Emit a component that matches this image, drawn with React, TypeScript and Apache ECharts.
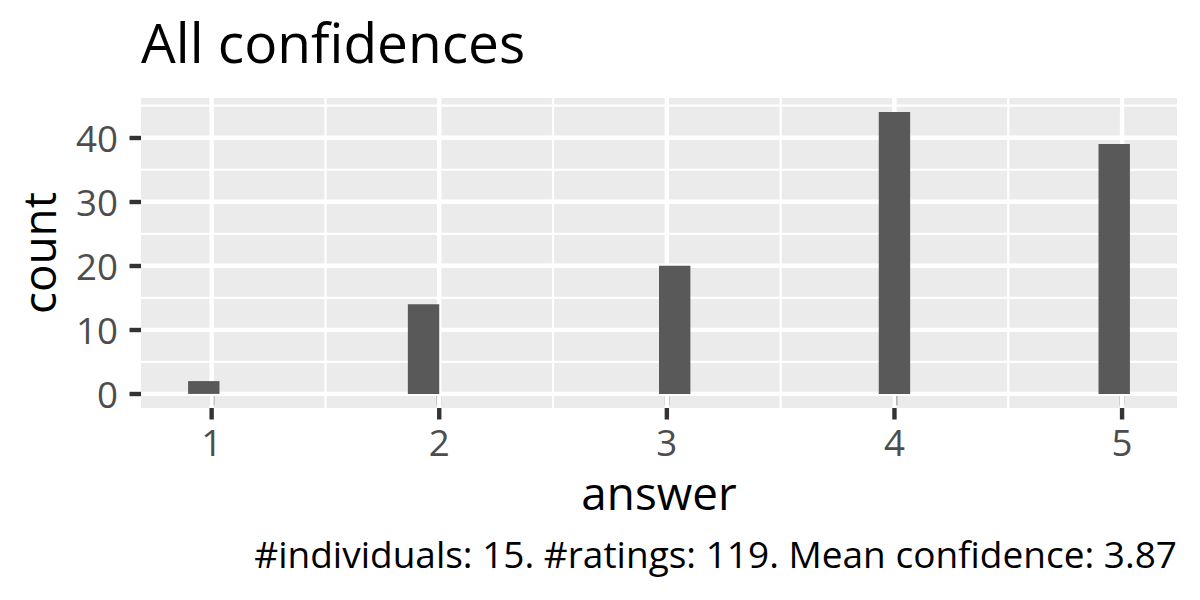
import React, { useEffect, useRef } from "react";
import * as echarts from "echarts";

// ---- data ----
const answers = [1, 2, 3, 4, 5];
const counts = [2, 14, 20, 44, 39];
const xTicks = [1, 2, 3, 4, 5];
const xMinor = [1.5, 2.5, 3.5, 4.5];
const yTicks = [0, 10, 20, 30, 40];
const yMinor = [5, 15, 25, 35, 45];
const titleText = "All confidences";
const xTitle = "answer";
const yTitle = "count";
const captionText = "#individuals: 15. #ratings: 119. Mean confidence: 3.87";
const BINS = 30;

const FONT = '"Open Sans", "Noto Sans", sans-serif';

export default function App() {
  const ref = useRef<HTMLDivElement>(null);

  useEffect(() => {
    const chart = echarts.init(ref.current!, null, { renderer: "svg" });

    // ggplot-style histogram bins (right-closed, boundary = width/2)
    const lo = Math.min(...answers);
    const hi = Math.max(...answers);
    const bw = (hi - lo) / (BINS - 1);
    const boundary = bw / 2;
    const bars = answers.map((a, i) => {
      const k = Math.ceil((a - boundary) / bw - 1e-7) - 1;
      const s = boundary + k * bw;
      return [s, s + bw, counts[i]];
    });
    const bMin = bars[0][0];
    const bMax = bars[bars.length - 1][1];
    const xPad = (bMax - bMin) * 0.05;
    const xLo = bMin - xPad;
    const xHi = bMax + xPad;
    const cMax = Math.max(...counts);
    const yLo = -cMax * 0.05;
    const yHi = cMax * 1.05;

    const gridSeries = (values: number[], dir: "x" | "y", width: number, z: number) => ({
      type: "custom",
      silent: true,
      z,
      clip: false,
      encode: { x: 0, y: 1 },
      data: values.map((v) => (dir === "x" ? [v, 0] : [xLo, v])),
      renderItem: (params: any, api: any) => {
        const cs = params.coordSys;
        if (dir === "x") {
          const p = api.coord([api.value(0), 0]);
          return {
            type: "line",
            shape: { x1: p[0], y1: cs.y, x2: p[0], y2: cs.y + cs.height },
            style: { stroke: "#FFFFFF", lineWidth: width },
          };
        }
        const p = api.coord([xLo, api.value(1)]);
        return {
          type: "line",
          shape: { x1: cs.x, y1: p[1], x2: cs.x + cs.width, y2: p[1] },
          style: { stroke: "#FFFFFF", lineWidth: width },
        };
      },
    });

    // x-axis tick marks drawn below the panel
    const xTickSeries = {
      type: "custom",
      silent: true,
      z: 4,
      clip: false,
      encode: { x: 0, y: 1 },
      data: xTicks.map((v) => [v, 0]),
      renderItem: (params: any, api: any) => {
        const cs = params.coordSys;
        const p = api.coord([api.value(0), 0]);
        const y0 = cs.y + cs.height;
        return {
          type: "line",
          shape: { x1: p[0], y1: y0, x2: p[0], y2: y0 + 11.5 },
          style: { stroke: "#333333", lineWidth: 4.4 },
        };
      },
    };

    chart.setOption({
      animation: false,
      textStyle: { fontFamily: FONT },
      title: {
        text: titleText,
        left: 141,
        top: 14,
        padding: 0,
        textStyle: { fontSize: 55, fontWeight: "normal", color: "#000000", fontFamily: FONT },
      },
      grid: {
        left: 141,
        top: 98,
        width: 1036,
        height: 310,
        show: true,
        backgroundColor: "#EBEBEB",
        borderWidth: 0,
        containLabel: false,
      },
      xAxis: {
        type: "value",
        min: xLo,
        max: xHi,
        axisLine: { show: false },
        splitLine: { show: false },
        axisTick: {
          show: true,
          customValues: xTicks,
          length: 11.5,
          lineStyle: { color: "#333333", width: 4.4 },
        },
        axisLabel: {
          customValues: xTicks,
          margin: 15,
          fontSize: 36.7,
          color: "#4D4D4D",
          fontFamily: FONT,
        },
        name: xTitle,
        nameLocation: "middle",
        nameGap: 61,
        nameTextStyle: { fontSize: 45.8, color: "#000000", fontFamily: FONT },
      },
      yAxis: {
        type: "value",
        min: yLo,
        max: yHi,
        axisLine: { show: false },
        splitLine: { show: false },
        axisTick: {
          show: true,
          customValues: yTicks,
          length: 11.5,
          lineStyle: { color: "#333333", width: 4.4 },
        },
        axisLabel: {
          customValues: yTicks,
          margin: 23,
          fontSize: 36.7,
          color: "#4D4D4D",
          fontFamily: FONT,
        },
        name: yTitle,
        nameLocation: "middle",
        nameGap: 80,
        nameTextStyle: { fontSize: 45.8, color: "#000000", fontFamily: FONT },
      },
      graphic: [
        {
          type: "text",
          x: 1177,
          y: 553.5,
          style: {
            text: captionText,
            fill: "#000000",
            font: `37px ${FONT}`,
            align: "right",
            verticalAlign: "middle",
          },
        },
      ],
      series: [
        gridSeries(xMinor, "x", 2.2, 1),
        gridSeries(yMinor, "y", 2.2, 1),
        gridSeries(xTicks, "x", 4.4, 2),
        gridSeries(yTicks, "y", 4.4, 2),
        {
          type: "custom",
          z: 3,
          encode: { x: [0, 1], y: 2 },
          data: bars,
          renderItem: (params: any, api: any) => {
            const p0 = api.coord([api.value(0), api.value(2)]);
            const p1 = api.coord([api.value(1), 0]);
            return {
              type: "rect",
              shape: { x: p0[0], y: p0[1], width: p1[0] - p0[0], height: p1[1] - p0[1] },
              style: { fill: "#595959" },
            };
          },
        },
        xTickSeries,
      ],
    });

    return () => chart.dispose();
  }, []);

  return (
    <div
      ref={ref}
      style={{ position: "absolute", left: 0, top: 0, width: 1200, height: 600, background: "#FFFFFF" }}
    />
  );
}
